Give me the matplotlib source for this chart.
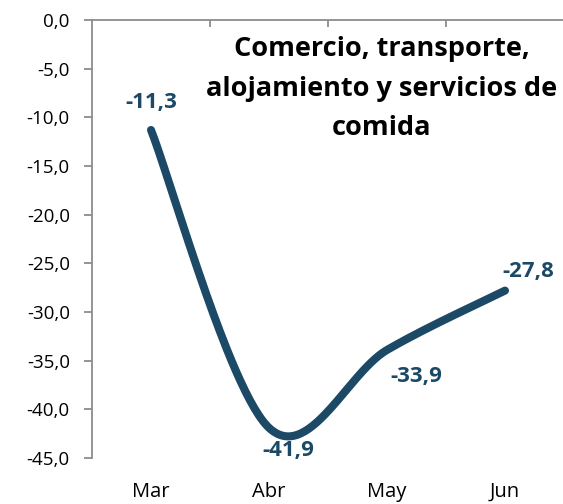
import matplotlib
matplotlib.use("Agg")
import matplotlib.pyplot as plt
import numpy as np

# datos
meses = ["Mar", "Abr", "May", "Jun"]
valores = [-11.3, -41.9, -33.9, -27.8]
etiquetas = ["-11,3", "-41,9", "-33,9", "-27,8"]
titulo = ["Comercio, transporte,", "alojamiento y servicios de", "comida"]

color_linea = "#1b4966"
gris = "#8c8c8c"

plt.rcParams["font.family"] = ["Open Sans", "DejaVu Sans"]

fig = plt.figure(figsize=(5.63, 5.04), dpi=100)
ax = fig.add_axes([92 / 563, 1 - 458 / 504, 472 / 563, 438 / 504])

x = np.arange(len(meses))
ax.set_xlim(-0.5, len(meses) - 0.5)
ax.set_ylim(-45, 0)


def suavizar(ax, xs, ys, n=60):
    # curva suavizada tipo Excel (Bezier con tangentes de Catmull-Rom en pantalla)
    pts = ax.transData.transform(np.column_stack([xs, ys]))
    k = len(pts)
    curva = []
    for i in range(k - 1):
        p0 = pts[max(i - 1, 0)]
        p1 = pts[i]
        p2 = pts[i + 1]
        p3 = pts[min(i + 2, k - 1)]
        c1 = p1 + (p2 - p0) / 6
        c2 = p2 - (p3 - p1) / 6
        t = np.linspace(0, 1, n)[:, None]
        seg = ((1 - t) ** 3) * p1 + 3 * t * (1 - t) ** 2 * c1 + 3 * t ** 2 * (1 - t) * c2 + t ** 3 * p2
        curva.append(seg if i == 0 else seg[1:])
    curva = np.vstack(curva)
    return ax.transData.inverted().transform(curva)


c = suavizar(ax, x, valores)
ax.plot(c[:, 0], c[:, 1], color=color_linea, lw=5.8, solid_capstyle="round", solid_joinstyle="round")

# etiquetas de datos (desplazamientos en puntos)
desp = [(0, 20), (14, -16), (21, -19), (17, 14)]
for xi, yi, txt, d in zip(x, valores, etiquetas, desp):
    ax.annotate(txt, (xi, yi), xytext=d, textcoords="offset points",
                ha="center", va="center", fontsize=16, fontweight="bold",
                color=color_linea)

# ejes
for lado in ["right", "bottom"]:
    ax.spines[lado].set_visible(False)
for lado in ["left", "top"]:
    ax.spines[lado].set_color(gris)
    ax.spines[lado].set_linewidth(1.3)

ax.set_yticks(np.arange(-45, 1, 5))
ax.set_yticklabels([f"{v:.1f}".replace(".", ",") for v in np.arange(-45, 1, 5)])
ax.tick_params(axis="y", direction="out", length=6, width=1.3, color=gris,
               labelsize=13.5, pad=10, labelcolor="black")

ax.set_xticks(x)
ax.set_xticklabels(meses)
ax.set_xticks(x[:-1] + 0.5, minor=True)
ax.tick_params(axis="x", which="major", bottom=True, top=False, length=0,
               labelsize=14.5, pad=17)
ax.tick_params(axis="x", which="minor", bottom=False, top=True, direction="in",
               length=5, width=1.3, color=gris)

# titulo en tres renglones
for linea, yb in zip(titulo, [0.918, 0.826, 0.737]):
    ax.text(0.614, yb, linea, transform=ax.transAxes, ha="center", va="baseline",
            fontsize=19.5, fontweight="bold")

fig.savefig("out.png", dpi=100)
